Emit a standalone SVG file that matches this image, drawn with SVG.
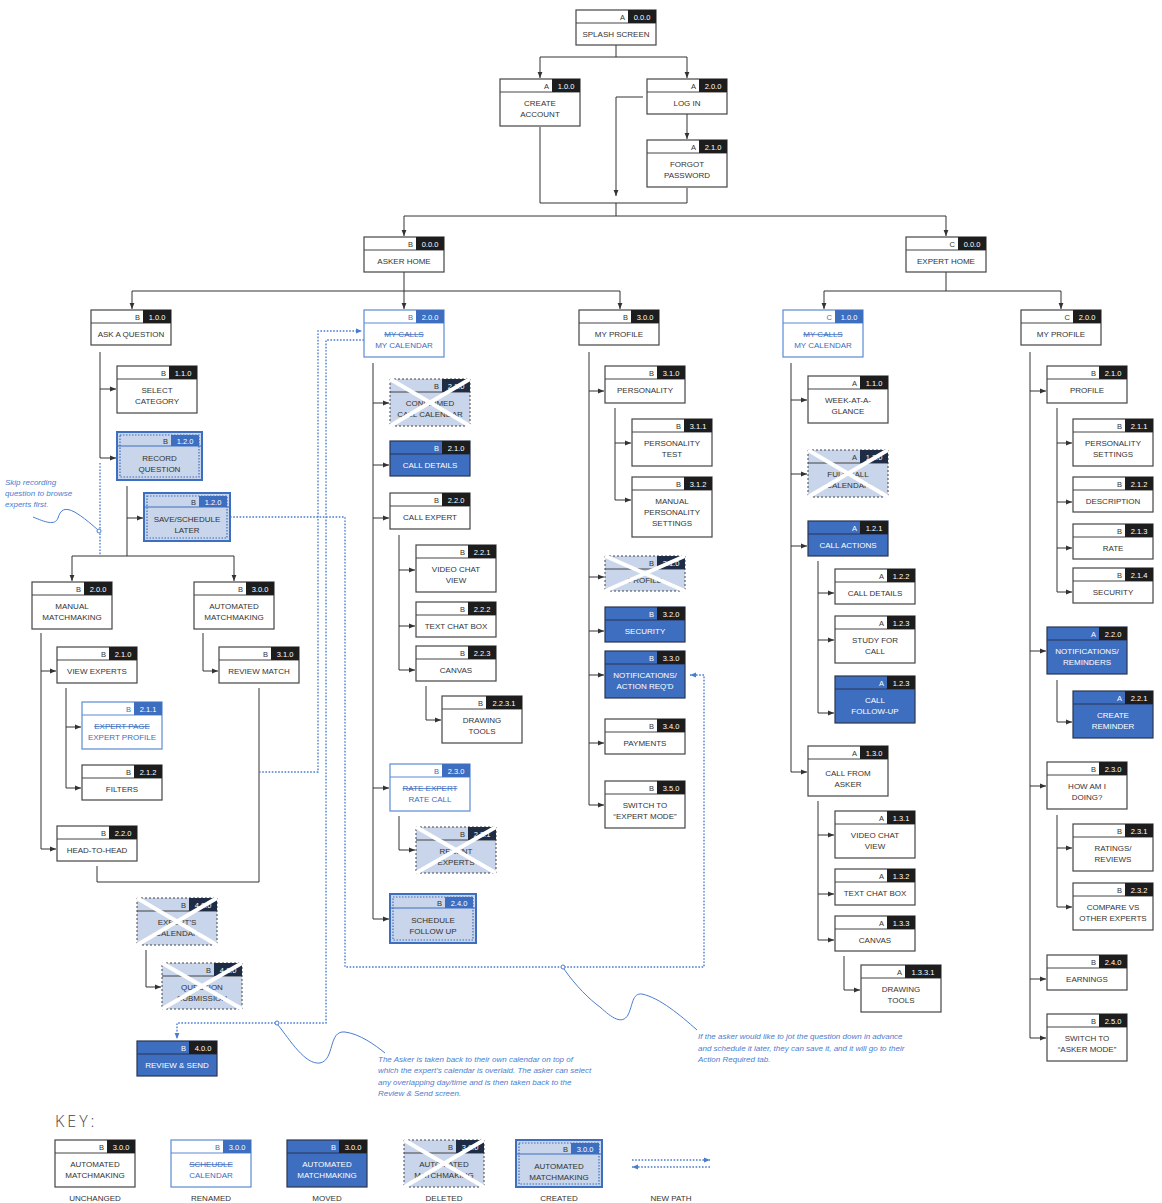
<svg xmlns="http://www.w3.org/2000/svg" width="1162" height="1203" viewBox="0 0 1162 1203">
<style>
text{font-family:"Liberation Sans",Arial,sans-serif}
.t{font-size:8px;text-anchor:middle;fill:#333}
.l{font-size:7.5px;text-anchor:end;fill:#333}
.n{font-size:7.5px;text-anchor:middle;fill:#fff}
.s{fill:none;stroke-width:1}
.u .b{fill:#fff;stroke:#444;stroke-width:1.2}
.u .s{stroke:#444}
.u .k{fill:#1d1d1d}
.r .b{fill:#fff;stroke:#5b8ad4;stroke-width:1.2}
.r .s{stroke:#5b8ad4}
.r .k{fill:#3d6ec0}
.r .l,.r .t{fill:#3d6ec0}
.m .b{fill:#3d6ec0;stroke:#2a3550;stroke-width:1.2}
.m .s{stroke:#2a3550}
.m .k{fill:#1d1d1d}
.m .l,.m .t{fill:#fff}
.d .b{fill:#c8d5ea;stroke:#444;stroke-width:1;stroke-dasharray:2 2}
.d .s{stroke:#444}
.d .k{fill:#1f2c46}
.x{stroke:#fff;stroke-width:4;fill:none}
.c .b{fill:#c8d5ea;stroke:#3d6ec0;stroke-width:2}
.c .s{stroke:#3d6ec0}
.c .k{fill:#3d6ec0}
.i{fill:none;stroke:#3d6ec0;stroke-width:1.2;stroke-dasharray:1.5 1.5}
.st{text-decoration:line-through}
.cn path{fill:none;stroke:#333;stroke-width:1}
.cn path.a{marker-end:url(#ah)}
.dp path{fill:none;stroke:#4a7dd0;stroke-width:1.4;stroke-dasharray:1.6 1.6}
.dp path.a{marker-end:url(#ab)}
.ann path{fill:none;stroke:#4a7dd0;stroke-width:1}
.ann circle{fill:#fff;stroke:#4a7dd0;stroke-width:1}
.at{font-size:8px;font-style:italic;fill:#4a7dd0}
.kl{font-size:8px;text-anchor:middle;fill:#333}
</style>
<defs>
<marker id="ah" viewBox="0 0 6 6" refX="6" refY="3" markerWidth="6" markerHeight="6" orient="auto" markerUnits="userSpaceOnUse"><path d="M0,0.6L6,3L0,5.4z" fill="#333"/></marker>
<marker id="ab" viewBox="0 0 6 6" refX="6" refY="3" markerWidth="6" markerHeight="6" orient="auto" markerUnits="userSpaceOnUse"><path d="M0,0.6L6,3L0,5.4z" fill="#4a7dd0"/></marker>
</defs>
<rect width="1162" height="1203" fill="#fff"/>

<g id="connectors" class="cn">
<path d="M616,45V57M540,57H687"/><path class="a" d="M540,57V78"/><path class="a" d="M687,57V78"/>
<path class="a" d="M687,114V139"/>
<path class="a" d="M643,97H616V196"/>
<path d="M540,127V203H687V188M616,203V216M404,216H946"/>
<path class="a" d="M404,216V236"/><path class="a" d="M946,216V236"/>
<path d="M404,272V291M132,291H620"/>
<path class="a" d="M132,291V309"/><path class="a" d="M404,291V309"/><path class="a" d="M620,291V309"/>
<path d="M946,272V291M824,291H1061"/>
<path class="a" d="M824,291V309"/><path class="a" d="M1061,291V309"/>
<path d="M100,352V458"/><path class="a" d="M100,389H116"/><path class="a" d="M100,458H116"/>
<path d="M127,486V556"/><path class="a" d="M127,518H143"/>
<path d="M72,556H234"/><path class="a" d="M72,556V581"/><path class="a" d="M234,556V581"/>
<path d="M41,633V849"/><path class="a" d="M41,671H56"/><path class="a" d="M41,849H56"/>
<path d="M66,688V788"/><path class="a" d="M66,727H81"/><path class="a" d="M66,788H81"/>
<path class="a" d="M203,633V671H218"/>
<path d="M97,866V882H259V688"/>
<path class="a" d="M146,950V987H161"/>
<path d="M373,363V919"/>
<path class="a" d="M373,403H389"/><path class="a" d="M373,465H389"/><path class="a" d="M373,518H389"/><path class="a" d="M373,788H389"/><path class="a" d="M373,919H389"/>
<path d="M399,535V670"/><path class="a" d="M399,570H415"/><path class="a" d="M399,626H415"/><path class="a" d="M399,670H415"/>
<path class="a" d="M426,686V720H441"/>
<path class="a" d="M399,816V850H415"/>
<path d="M589,352V805"/>
<path class="a" d="M589,391H604"/><path class="a" d="M589,577H604"/><path class="a" d="M589,631H604"/><path class="a" d="M589,675H604"/><path class="a" d="M589,743H604"/><path class="a" d="M589,805H604"/>
<path d="M615,408V500"/><path class="a" d="M615,443H631"/><path class="a" d="M615,500H631"/>
<path d="M791,363V772"/>
<path class="a" d="M791,400H807"/><path class="a" d="M791,474H807"/><path class="a" d="M791,546H807"/><path class="a" d="M791,772H807"/>
<path d="M818,561V713"/><path class="a" d="M818,593H834"/><path class="a" d="M818,640H834"/><path class="a" d="M818,713H834"/>
<path d="M818,801V940"/><path class="a" d="M818,835H834"/><path class="a" d="M818,894H834"/><path class="a" d="M818,940H834"/>
<path class="a" d="M844,956V990H860"/>
<path d="M1030,352V1038"/>
<path class="a" d="M1030,391H1046"/><path class="a" d="M1030,651H1046"/><path class="a" d="M1030,786H1046"/><path class="a" d="M1030,979H1046"/><path class="a" d="M1030,1038H1046"/>
<path d="M1057,408V592"/><path class="a" d="M1057,443H1072"/><path class="a" d="M1057,502H1072"/><path class="a" d="M1057,548H1072"/><path class="a" d="M1057,592H1072"/>
<path class="a" d="M1057,680V722H1072"/>
<path d="M1057,815V907"/><path class="a" d="M1057,848H1072"/><path class="a" d="M1057,907H1072"/>
</g>

<g id="new-paths" class="dp">
<path d="M100,463V555"/>
<path class="a" d="M259,772H318V331H362"/>
<path class="a" d="M364,340H326V1023H177V1039"/>
<path class="a" d="M230,517H345V967H704V675H690"/>
<path class="a" d="M632,1160H710"/>
<path class="a" d="M710,1167H632"/>
</g>

<g id="n-splash" class="u"><rect class="b" x="576" y="10" width="80" height="35"/><path class="s" d="M576,23h80"/><rect class="k" x="628" y="10" width="28" height="13"/><text class="l" x="625" y="20">A</text><text class="n" x="642" y="20">0.0.0</text><text class="t" x="616" y="37">SPLASH SCREEN</text></g>
<g id="n-create" class="u"><rect class="b" x="500" y="79" width="80" height="47"/><path class="s" d="M500,92h80"/><rect class="k" x="552" y="79" width="28" height="13"/><text class="l" x="549" y="89">A</text><text class="n" x="566" y="89">1.0.0</text><text class="t" x="540" y="106">CREATE</text><text class="t" x="540" y="117">ACCOUNT</text></g>
<g id="n-login" class="u"><rect class="b" x="647" y="79" width="80" height="35"/><path class="s" d="M647,92h80"/><rect class="k" x="699" y="79" width="28" height="13"/><text class="l" x="696" y="89">A</text><text class="n" x="713" y="89">2.0.0</text><text class="t" x="687" y="106">LOG IN</text></g>
<g id="n-forgot" class="u"><rect class="b" x="647" y="140" width="80" height="47"/><path class="s" d="M647,153h80"/><rect class="k" x="699" y="140" width="28" height="13"/><text class="l" x="696" y="150">A</text><text class="n" x="713" y="150">2.1.0</text><text class="t" x="687" y="167">FORGOT</text><text class="t" x="687" y="178">PASSWORD</text></g>
<g id="n-askerhome" class="u"><rect class="b" x="364" y="237" width="80" height="35"/><path class="s" d="M364,250h80"/><rect class="k" x="416" y="237" width="28" height="13"/><text class="l" x="413" y="247">B</text><text class="n" x="430" y="247">0.0.0</text><text class="t" x="404" y="264">ASKER HOME</text></g>
<g id="n-experthome" class="u"><rect class="b" x="906" y="237" width="80" height="35"/><path class="s" d="M906,250h80"/><rect class="k" x="958" y="237" width="28" height="13"/><text class="l" x="955" y="247">C</text><text class="n" x="972" y="247">0.0.0</text><text class="t" x="946" y="264">EXPERT HOME</text></g>
<g id="n-ask" class="u"><rect class="b" x="91" y="310" width="80" height="35"/><path class="s" d="M91,323h80"/><rect class="k" x="143" y="310" width="28" height="13"/><text class="l" x="140" y="320">B</text><text class="n" x="157" y="320">1.0.0</text><text class="t" x="131" y="337">ASK A QUESTION</text></g>
<g id="n-mycal" class="r"><rect class="b" x="364" y="310" width="80" height="47"/><path class="s" d="M364,323h80"/><rect class="k" x="416" y="310" width="28" height="13"/><text class="l" x="413" y="320">B</text><text class="n" x="430" y="320">2.0.0</text><text class="t st" x="404" y="337">MY CALLS</text><text class="t" x="404" y="348">MY CALENDAR</text></g>
<g id="n-myprofile" class="u"><rect class="b" x="579" y="310" width="80" height="35"/><path class="s" d="M579,323h80"/><rect class="k" x="631" y="310" width="28" height="13"/><text class="l" x="628" y="320">B</text><text class="n" x="645" y="320">3.0.0</text><text class="t" x="619" y="337">MY PROFILE</text></g>
<g id="n-emycal" class="r"><rect class="b" x="783" y="310" width="80" height="47"/><path class="s" d="M783,323h80"/><rect class="k" x="835" y="310" width="28" height="13"/><text class="l" x="832" y="320">C</text><text class="n" x="849" y="320">1.0.0</text><text class="t st" x="823" y="337">MY CALLS</text><text class="t" x="823" y="348">MY CALENDAR</text></g>
<g id="n-emyprofile" class="u"><rect class="b" x="1021" y="310" width="80" height="35"/><path class="s" d="M1021,323h80"/><rect class="k" x="1073" y="310" width="28" height="13"/><text class="l" x="1070" y="320">C</text><text class="n" x="1087" y="320">2.0.0</text><text class="t" x="1061" y="337">MY PROFILE</text></g>

<g id="n-selcat" class="u"><rect class="b" x="117" y="366" width="80" height="47"/><path class="s" d="M117,379h80"/><rect class="k" x="169" y="366" width="28" height="13"/><text class="l" x="166" y="376">B</text><text class="n" x="183" y="376">1.1.0</text><text class="t" x="157" y="393">SELECT</text><text class="t" x="157" y="404">CATEGORY</text></g>
<g id="n-record" class="c"><rect class="b" x="117" y="432" width="85" height="48"/><path class="s" d="M117,446h85"/><rect class="k" x="171" y="435" width="28" height="11"/><text class="l" x="168" y="444">B</text><text class="n" x="185" y="444">1.2.0</text><text class="t" x="159.5" y="461">RECORD</text><text class="t" x="159.5" y="472">QUESTION</text><rect class="i" x="120" y="435" width="79" height="42"/></g>
<g id="n-save" class="c"><rect class="b" x="144" y="493" width="86" height="48"/><path class="s" d="M144,507h86"/><rect class="k" x="199" y="496" width="28" height="11"/><text class="l" x="196" y="505">B</text><text class="n" x="213" y="505">1.2.0</text><text class="t" x="187" y="522">SAVE/SCHEDULE</text><text class="t" x="187" y="533">LATER</text><rect class="i" x="147" y="496" width="80" height="42"/></g>
<g id="n-manual" class="u"><rect class="b" x="32" y="582" width="80" height="47"/><path class="s" d="M32,595h80"/><rect class="k" x="84" y="582" width="28" height="13"/><text class="l" x="81" y="592">B</text><text class="n" x="98" y="592">2.0.0</text><text class="t" x="72" y="609">MANUAL</text><text class="t" x="72" y="620">MATCHMAKING</text></g>
<g id="n-auto" class="u"><rect class="b" x="194" y="582" width="80" height="47"/><path class="s" d="M194,595h80"/><rect class="k" x="246" y="582" width="28" height="13"/><text class="l" x="243" y="592">B</text><text class="n" x="260" y="592">3.0.0</text><text class="t" x="234" y="609">AUTOMATED</text><text class="t" x="234" y="620">MATCHMAKING</text></g>
<g id="n-viewexp" class="u"><rect class="b" x="57" y="647" width="80" height="36"/><path class="s" d="M57,660h80"/><rect class="k" x="109" y="647" width="28" height="13"/><text class="l" x="106" y="657">B</text><text class="n" x="123" y="657">2.1.0</text><text class="t" x="97" y="674">VIEW EXPERTS</text></g>
<g id="n-expprof" class="r"><rect class="b" x="82" y="702" width="80" height="47"/><path class="s" d="M82,715h80"/><rect class="k" x="134" y="702" width="28" height="13"/><text class="l" x="131" y="712">B</text><text class="n" x="148" y="712">2.1.1</text><text class="t st" x="122" y="729">EXPERT PAGE</text><text class="t" x="122" y="740">EXPERT PROFILE</text></g>
<g id="n-filters" class="u"><rect class="b" x="82" y="765" width="80" height="35"/><path class="s" d="M82,778h80"/><rect class="k" x="134" y="765" width="28" height="13"/><text class="l" x="131" y="775">B</text><text class="n" x="148" y="775">2.1.2</text><text class="t" x="122" y="792">FILTERS</text></g>
<g id="n-h2h" class="u"><rect class="b" x="57" y="826" width="80" height="35"/><path class="s" d="M57,839h80"/><rect class="k" x="109" y="826" width="28" height="13"/><text class="l" x="106" y="836">B</text><text class="n" x="123" y="836">2.2.0</text><text class="t" x="97" y="853">HEAD-TO-HEAD</text></g>
<g id="n-review" class="u"><rect class="b" x="219" y="647" width="80" height="36"/><path class="s" d="M219,660h80"/><rect class="k" x="271" y="647" width="28" height="13"/><text class="l" x="268" y="657">B</text><text class="n" x="285" y="657">3.1.0</text><text class="t" x="259" y="674">REVIEW MATCH</text></g>
<g id="n-expcal" class="d"><rect class="b" x="137" y="898" width="80" height="47"/><path class="s" d="M137,911h80"/><rect class="k" x="189" y="898" width="28" height="13"/><text class="l" x="186" y="908">B</text><text class="n" x="203" y="908">4.0.0</text><text class="t" x="177" y="925">EXPERT'S</text><text class="t" x="177" y="936">CALENDAR</text><path class="x" d="M137,898L217,945M217,898L137,945"/></g>
<g id="n-qsub" class="d"><rect class="b" x="162" y="963" width="80" height="46"/><path class="s" d="M162,976h80"/><rect class="k" x="214" y="963" width="28" height="13"/><text class="l" x="211" y="973">B</text><text class="n" x="228" y="973">4.1.0</text><text class="t" x="202" y="990">QUESTION</text><text class="t" x="202" y="1001">SUBMISSION</text><path class="x" d="M162,963L242,1009M242,963L162,1009"/></g>
<g id="n-rsend" class="m"><rect class="b" x="137" y="1041" width="80" height="35"/><path class="s" d="M137,1054h80"/><rect class="k" x="189" y="1041" width="28" height="13"/><text class="l" x="186" y="1051">B</text><text class="n" x="203" y="1051">4.0.0</text><text class="t" x="177" y="1068">REVIEW &amp; SEND</text></g>

<g id="n-confcal" class="d"><rect class="b" x="390" y="379" width="80" height="47"/><path class="s" d="M390,392h80"/><rect class="k" x="442" y="379" width="28" height="13"/><text class="l" x="439" y="389">B</text><text class="n" x="456" y="389">2.1.0</text><text class="t" x="430" y="406">CONFIRMED</text><text class="t" x="430" y="417">CALL CALENDAR</text><path class="x" d="M390,379L470,426M470,379L390,426"/></g>
<g id="n-calldet" class="m"><rect class="b" x="390" y="441" width="80" height="35"/><path class="s" d="M390,454h80"/><rect class="k" x="442" y="441" width="28" height="13"/><text class="l" x="439" y="451">B</text><text class="n" x="456" y="451">2.1.0</text><text class="t" x="430" y="468">CALL DETAILS</text></g>
<g id="n-callexp" class="u"><rect class="b" x="390" y="493" width="80" height="36"/><path class="s" d="M390,506h80"/><rect class="k" x="442" y="493" width="28" height="13"/><text class="l" x="439" y="503">B</text><text class="n" x="456" y="503">2.2.0</text><text class="t" x="430" y="520">CALL EXPERT</text></g>
<g id="n-vcv" class="u"><rect class="b" x="416" y="545" width="80" height="47"/><path class="s" d="M416,558h80"/><rect class="k" x="468" y="545" width="28" height="13"/><text class="l" x="465" y="555">B</text><text class="n" x="482" y="555">2.2.1</text><text class="t" x="456" y="572">VIDEO CHAT</text><text class="t" x="456" y="583">VIEW</text></g>
<g id="n-tcb" class="u"><rect class="b" x="416" y="602" width="80" height="35"/><path class="s" d="M416,615h80"/><rect class="k" x="468" y="602" width="28" height="13"/><text class="l" x="465" y="612">B</text><text class="n" x="482" y="612">2.2.2</text><text class="t" x="456" y="629">TEXT CHAT BOX</text></g>
<g id="n-canvas" class="u"><rect class="b" x="416" y="646" width="80" height="35"/><path class="s" d="M416,659h80"/><rect class="k" x="468" y="646" width="28" height="13"/><text class="l" x="465" y="656">B</text><text class="n" x="482" y="656">2.2.3</text><text class="t" x="456" y="673">CANVAS</text></g>
<g id="n-draw" class="u"><rect class="b" x="442" y="696" width="80" height="47"/><path class="s" d="M442,709h80"/><rect class="k" x="486" y="696" width="36" height="13"/><text class="l" x="483" y="706">B</text><text class="n" x="504" y="706">2.2.3.1</text><text class="t" x="482" y="723">DRAWING</text><text class="t" x="482" y="734">TOOLS</text></g>
<g id="n-ratecall" class="r"><rect class="b" x="390" y="764" width="80" height="47"/><path class="s" d="M390,777h80"/><rect class="k" x="442" y="764" width="28" height="13"/><text class="l" x="439" y="774">B</text><text class="n" x="456" y="774">2.3.0</text><text class="t st" x="430" y="791">RATE EXPERT</text><text class="t" x="430" y="802">RATE CALL</text></g>
<g id="n-recent" class="d"><rect class="b" x="416" y="827" width="80" height="46"/><path class="s" d="M416,840h80"/><rect class="k" x="468" y="827" width="28" height="13"/><text class="l" x="465" y="837">B</text><text class="n" x="482" y="837">2.3.1</text><text class="t" x="456" y="854">RECENT</text><text class="t" x="456" y="865">EXPERTS</text><path class="x" d="M416,827L496,873M496,827L416,873"/></g>
<g id="n-schedfu" class="c"><rect class="b" x="390" y="894" width="86" height="49"/><path class="s" d="M390,908h86"/><rect class="k" x="445" y="897" width="28" height="11"/><text class="l" x="442" y="906">B</text><text class="n" x="459" y="906">2.4.0</text><text class="t" x="433" y="923">SCHEDULE</text><text class="t" x="433" y="934">FOLLOW UP</text><rect class="i" x="393" y="897" width="80" height="43"/></g>

<g id="n-personality" class="u"><rect class="b" x="605" y="366" width="80" height="37"/><path class="s" d="M605,379h80"/><rect class="k" x="657" y="366" width="28" height="13"/><text class="l" x="654" y="376">B</text><text class="n" x="671" y="376">3.1.0</text><text class="t" x="645" y="393">PERSONALITY</text></g>
<g id="n-ptest" class="u"><rect class="b" x="632" y="419" width="80" height="47"/><path class="s" d="M632,432h80"/><rect class="k" x="684" y="419" width="28" height="13"/><text class="l" x="681" y="429">B</text><text class="n" x="698" y="429">3.1.1</text><text class="t" x="672" y="446">PERSONALITY</text><text class="t" x="672" y="457">TEST</text></g>
<g id="n-mps" class="u"><rect class="b" x="632" y="477" width="80" height="60"/><path class="s" d="M632,490h80"/><rect class="k" x="684" y="477" width="28" height="13"/><text class="l" x="681" y="487">B</text><text class="n" x="698" y="487">3.1.2</text><text class="t" x="672" y="504">MANUAL</text><text class="t" x="672" y="515">PERSONALITY</text><text class="t" x="672" y="526">SETTINGS</text></g>
<g id="n-profdel" class="d"><rect class="b" x="605" y="556" width="80" height="35"/><path class="s" d="M605,569h80"/><rect class="k" x="657" y="556" width="28" height="13"/><text class="l" x="654" y="566">B</text><text class="n" x="671" y="566">3.1.0</text><text class="t" x="645" y="583">PROFILE</text><path class="x" d="M605,556L685,591M685,556L605,591"/></g>
<g id="n-security" class="m"><rect class="b" x="605" y="607" width="80" height="35"/><path class="s" d="M605,620h80"/><rect class="k" x="657" y="607" width="28" height="13"/><text class="l" x="654" y="617">B</text><text class="n" x="671" y="617">3.2.0</text><text class="t" x="645" y="634">SECURITY</text></g>
<g id="n-notif" class="m"><rect class="b" x="605" y="651" width="80" height="47"/><path class="s" d="M605,664h80"/><rect class="k" x="657" y="651" width="28" height="13"/><text class="l" x="654" y="661">B</text><text class="n" x="671" y="661">3.3.0</text><text class="t" x="645" y="678">NOTIFICATIONS/</text><text class="t" x="645" y="689">ACTION REQ'D</text></g>
<g id="n-payments" class="u"><rect class="b" x="605" y="719" width="80" height="35"/><path class="s" d="M605,732h80"/><rect class="k" x="657" y="719" width="28" height="13"/><text class="l" x="654" y="729">B</text><text class="n" x="671" y="729">3.4.0</text><text class="t" x="645" y="746">PAYMENTS</text></g>
<g id="n-switche" class="u"><rect class="b" x="605" y="781" width="80" height="47"/><path class="s" d="M605,794h80"/><rect class="k" x="657" y="781" width="28" height="13"/><text class="l" x="654" y="791">B</text><text class="n" x="671" y="791">3.5.0</text><text class="t" x="645" y="808">SWITCH TO</text><text class="t" x="645" y="819">“EXPERT MODE”</text></g>

<g id="n-week" class="u"><rect class="b" x="808" y="376" width="80" height="47"/><path class="s" d="M808,389h80"/><rect class="k" x="860" y="376" width="28" height="13"/><text class="l" x="857" y="386">A</text><text class="n" x="874" y="386">1.1.0</text><text class="t" x="848" y="403">WEEK-AT-A-</text><text class="t" x="848" y="414">GLANCE</text></g>
<g id="n-fullcal" class="d"><rect class="b" x="808" y="450" width="80" height="47"/><path class="s" d="M808,463h80"/><rect class="k" x="860" y="450" width="28" height="13"/><text class="l" x="857" y="460">A</text><text class="n" x="874" y="460">1.2.0</text><text class="t" x="848" y="477">FULL CALL</text><text class="t" x="848" y="488">CALENDAR</text><path class="x" d="M808,450L888,497M888,450L808,497"/></g>
<g id="n-callact" class="m"><rect class="b" x="808" y="521" width="80" height="35"/><path class="s" d="M808,534h80"/><rect class="k" x="860" y="521" width="28" height="13"/><text class="l" x="857" y="531">A</text><text class="n" x="874" y="531">1.2.1</text><text class="t" x="848" y="548">CALL ACTIONS</text></g>
<g id="n-ecalldet" class="u"><rect class="b" x="835" y="569" width="80" height="35"/><path class="s" d="M835,582h80"/><rect class="k" x="887" y="569" width="28" height="13"/><text class="l" x="884" y="579">A</text><text class="n" x="901" y="579">1.2.2</text><text class="t" x="875" y="596">CALL DETAILS</text></g>
<g id="n-study" class="u"><rect class="b" x="835" y="616" width="80" height="47"/><path class="s" d="M835,629h80"/><rect class="k" x="887" y="616" width="28" height="13"/><text class="l" x="884" y="626">A</text><text class="n" x="901" y="626">1.2.3</text><text class="t" x="875" y="643">STUDY FOR</text><text class="t" x="875" y="654">CALL</text></g>
<g id="n-followup" class="m"><rect class="b" x="835" y="676" width="80" height="47"/><path class="s" d="M835,689h80"/><rect class="k" x="887" y="676" width="28" height="13"/><text class="l" x="884" y="686">A</text><text class="n" x="901" y="686">1.2.3</text><text class="t" x="875" y="703">CALL</text><text class="t" x="875" y="714">FOLLOW-UP</text></g>
<g id="n-callfrom" class="u"><rect class="b" x="808" y="746" width="80" height="50"/><path class="s" d="M808,759h80"/><rect class="k" x="860" y="746" width="28" height="13"/><text class="l" x="857" y="756">A</text><text class="n" x="874" y="756">1.3.0</text><text class="t" x="848" y="776">CALL FROM</text><text class="t" x="848" y="787">ASKER</text></g>
<g id="n-evcv" class="u"><rect class="b" x="835" y="811" width="80" height="47"/><path class="s" d="M835,824h80"/><rect class="k" x="887" y="811" width="28" height="13"/><text class="l" x="884" y="821">A</text><text class="n" x="901" y="821">1.3.1</text><text class="t" x="875" y="838">VIDEO CHAT</text><text class="t" x="875" y="849">VIEW</text></g>
<g id="n-etcb" class="u"><rect class="b" x="835" y="869" width="80" height="36"/><path class="s" d="M835,882h80"/><rect class="k" x="887" y="869" width="28" height="13"/><text class="l" x="884" y="879">A</text><text class="n" x="901" y="879">1.3.2</text><text class="t" x="875" y="896">TEXT CHAT BOX</text></g>
<g id="n-ecanvas" class="u"><rect class="b" x="835" y="916" width="80" height="35"/><path class="s" d="M835,929h80"/><rect class="k" x="887" y="916" width="28" height="13"/><text class="l" x="884" y="926">A</text><text class="n" x="901" y="926">1.3.3</text><text class="t" x="875" y="943">CANVAS</text></g>
<g id="n-edraw" class="u"><rect class="b" x="861" y="965" width="80" height="47"/><path class="s" d="M861,978h80"/><rect class="k" x="905" y="965" width="36" height="13"/><text class="l" x="902" y="975">A</text><text class="n" x="923" y="975">1.3.3.1</text><text class="t" x="901" y="992">DRAWING</text><text class="t" x="901" y="1003">TOOLS</text></g>

<g id="n-eprofile" class="u"><rect class="b" x="1047" y="366" width="80" height="37"/><path class="s" d="M1047,379h80"/><rect class="k" x="1099" y="366" width="28" height="13"/><text class="l" x="1096" y="376">B</text><text class="n" x="1113" y="376">2.1.0</text><text class="t" x="1087" y="393">PROFILE</text></g>
<g id="n-psettings" class="u"><rect class="b" x="1073" y="419" width="80" height="47"/><path class="s" d="M1073,432h80"/><rect class="k" x="1125" y="419" width="28" height="13"/><text class="l" x="1122" y="429">B</text><text class="n" x="1139" y="429">2.1.1</text><text class="t" x="1113" y="446">PERSONALITY</text><text class="t" x="1113" y="457">SETTINGS</text></g>
<g id="n-desc" class="u"><rect class="b" x="1073" y="477" width="80" height="35"/><path class="s" d="M1073,490h80"/><rect class="k" x="1125" y="477" width="28" height="13"/><text class="l" x="1122" y="487">B</text><text class="n" x="1139" y="487">2.1.2</text><text class="t" x="1113" y="504">DESCRIPTION</text></g>
<g id="n-rate" class="u"><rect class="b" x="1073" y="524" width="80" height="35"/><path class="s" d="M1073,537h80"/><rect class="k" x="1125" y="524" width="28" height="13"/><text class="l" x="1122" y="534">B</text><text class="n" x="1139" y="534">2.1.3</text><text class="t" x="1113" y="551">RATE</text></g>
<g id="n-esec" class="u"><rect class="b" x="1073" y="568" width="80" height="35"/><path class="s" d="M1073,581h80"/><rect class="k" x="1125" y="568" width="28" height="13"/><text class="l" x="1122" y="578">B</text><text class="n" x="1139" y="578">2.1.4</text><text class="t" x="1113" y="595">SECURITY</text></g>
<g id="n-enotif" class="m"><rect class="b" x="1047" y="627" width="80" height="47"/><path class="s" d="M1047,640h80"/><rect class="k" x="1099" y="627" width="28" height="13"/><text class="l" x="1096" y="637">A</text><text class="n" x="1113" y="637">2.2.0</text><text class="t" x="1087" y="654">NOTIFICATIONS/</text><text class="t" x="1087" y="665">REMINDERS</text></g>
<g id="n-creminder" class="m"><rect class="b" x="1073" y="691" width="80" height="47"/><path class="s" d="M1073,704h80"/><rect class="k" x="1125" y="691" width="28" height="13"/><text class="l" x="1122" y="701">A</text><text class="n" x="1139" y="701">2.2.1</text><text class="t" x="1113" y="718">CREATE</text><text class="t" x="1113" y="729">REMINDER</text></g>
<g id="n-howami" class="u"><rect class="b" x="1047" y="762" width="80" height="47"/><path class="s" d="M1047,775h80"/><rect class="k" x="1099" y="762" width="28" height="13"/><text class="l" x="1096" y="772">B</text><text class="n" x="1113" y="772">2.3.0</text><text class="t" x="1087" y="789">HOW AM I</text><text class="t" x="1087" y="800">DOING?</text></g>
<g id="n-ratings" class="u"><rect class="b" x="1073" y="824" width="80" height="47"/><path class="s" d="M1073,837h80"/><rect class="k" x="1125" y="824" width="28" height="13"/><text class="l" x="1122" y="834">B</text><text class="n" x="1139" y="834">2.3.1</text><text class="t" x="1113" y="851">RATINGS/</text><text class="t" x="1113" y="862">REVIEWS</text></g>
<g id="n-compare" class="u"><rect class="b" x="1073" y="883" width="80" height="47"/><path class="s" d="M1073,896h80"/><rect class="k" x="1125" y="883" width="28" height="13"/><text class="l" x="1122" y="893">B</text><text class="n" x="1139" y="893">2.3.2</text><text class="t" x="1113" y="910">COMPARE VS</text><text class="t" x="1113" y="921">OTHER EXPERTS</text></g>
<g id="n-earnings" class="u"><rect class="b" x="1047" y="955" width="80" height="35"/><path class="s" d="M1047,968h80"/><rect class="k" x="1099" y="955" width="28" height="13"/><text class="l" x="1096" y="965">B</text><text class="n" x="1113" y="965">2.4.0</text><text class="t" x="1087" y="982">EARNINGS</text></g>
<g id="n-switcha" class="u"><rect class="b" x="1047" y="1014" width="80" height="47"/><path class="s" d="M1047,1027h80"/><rect class="k" x="1099" y="1014" width="28" height="13"/><text class="l" x="1096" y="1024">B</text><text class="n" x="1113" y="1024">2.5.0</text><text class="t" x="1087" y="1041">SWITCH TO</text><text class="t" x="1087" y="1052">“ASKER MODE”</text></g>

<g id="annotations" class="ann">
<path d="M33,517C45,522 55,526 58,518C62,505 70,505 98,530"/><circle cx="99" cy="531" r="2"/>
<text class="at" x="5" y="485">Skip recording</text><text class="at" x="5" y="496">question to browse</text><text class="at" x="5" y="507">experts first.</text>
<path d="M278,1025C290,1040 305,1065 320,1063C335,1060 328,1030 345,1032C360,1034 375,1045 385,1053"/><circle cx="277" cy="1023" r="2"/>
<text class="at" x="378" y="1062">The Asker is taken back to their own calendar on top of</text>
<text class="at" x="378" y="1073">which the expert's calendar is overlaid. The asker can select</text>
<text class="at" x="378" y="1085">any overlapping day/time and is then taken back to the</text>
<text class="at" x="378" y="1096">Review &amp; Send screen.</text>
<path d="M564,969C575,985 590,1000 600,1007C612,1018 622,1025 628,1015C633,1005 632,993 642,994C660,998 680,1015 697,1030"/><circle cx="563" cy="967" r="2"/>
<text class="at" x="698" y="1039">If the asker would like to jot the question down in advance</text>
<text class="at" x="698" y="1051">and schedule it later, they can save it, and it will go to their</text>
<text class="at" x="698" y="1062">Action Required tab.</text>
</g>

<g id="key">
<text x="55" y="1127" style="font-family:'Open Sans','Liberation Sans',sans-serif;font-size:16px;letter-spacing:3px;fill:#444;font-weight:300">KEY:</text>
<g id="k-unchanged" class="u"><rect class="b" x="55" y="1140" width="80" height="47"/><path class="s" d="M55,1153h80"/><rect class="k" x="107" y="1140" width="28" height="13"/><text class="l" x="104" y="1150">B</text><text class="n" x="121" y="1150">3.0.0</text><text class="t" x="95" y="1167">AUTOMATED</text><text class="t" x="95" y="1178">MATCHMAKING</text></g>
<g id="k-renamed" class="r"><rect class="b" x="171" y="1140" width="80" height="47"/><path class="s" d="M171,1153h80"/><rect class="k" x="223" y="1140" width="28" height="13"/><text class="l" x="220" y="1150">B</text><text class="n" x="237" y="1150">3.0.0</text><text class="t st" x="211" y="1167">SCHEUDLE</text><text class="t" x="211" y="1178">CALENDAR</text></g>
<g id="k-moved" class="m"><rect class="b" x="287" y="1140" width="80" height="47"/><path class="s" d="M287,1153h80"/><rect class="k" x="339" y="1140" width="28" height="13"/><text class="l" x="336" y="1150">B</text><text class="n" x="353" y="1150">3.0.0</text><text class="t" x="327" y="1167">AUTOMATED</text><text class="t" x="327" y="1178">MATCHMAKING</text></g>
<g id="k-deleted" class="d"><rect class="b" x="404" y="1140" width="80" height="47"/><path class="s" d="M404,1153h80"/><rect class="k" x="456" y="1140" width="28" height="13"/><text class="l" x="453" y="1150">B</text><text class="n" x="470" y="1150">3.0.0</text><text class="t" x="444" y="1167">AUTOMATED</text><text class="t" x="444" y="1178">MATCHMAKING</text><path class="x" d="M404,1140L484,1187M484,1140L404,1187"/></g>
<g id="k-created" class="c"><rect class="b" x="516" y="1140" width="86" height="47"/><path class="s" d="M516,1154h86"/><rect class="k" x="571" y="1143" width="28" height="11"/><text class="l" x="568" y="1152">B</text><text class="n" x="585" y="1152">3.0.0</text><text class="t" x="559" y="1169">AUTOMATED</text><text class="t" x="559" y="1180">MATCHMAKING</text><rect class="i" x="519" y="1143" width="80" height="41"/></g>
<text class="kl" x="95" y="1201">UNCHANGED</text>
<text class="kl" x="211" y="1201">RENAMED</text>
<text class="kl" x="327" y="1201">MOVED</text>
<text class="kl" x="444" y="1201">DELETED</text>
<text class="kl" x="559" y="1201">CREATED</text>
<text class="kl" x="671" y="1201">NEW PATH</text>
</g>
</svg>
